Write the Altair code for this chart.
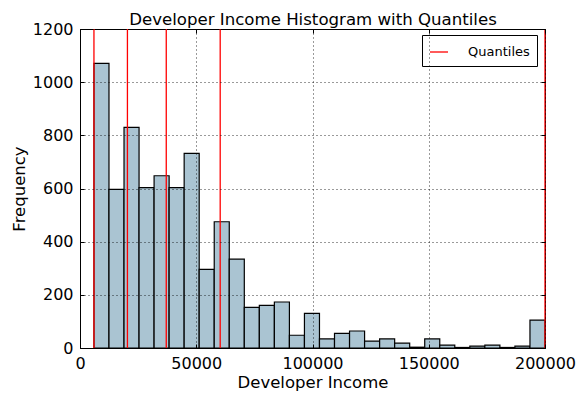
import altair as alt
import pandas as pd

# Histogram: 30 bins between the minimum and maximum income
income_min = 6000
income_max = 200000
counts = [1071, 597, 830, 603, 648, 603, 732, 296, 475, 334,
          153, 160, 173, 48, 130, 34, 55, 64, 26, 34,
          18, 3, 34, 11, 2, 7, 11, 2, 7, 105]
quantile_values = [6000, 20400, 37100, 60300, 200000]
x_ticks = [0, 50000, 100000, 150000, 200000]
y_ticks = [0, 200, 400, 600, 800, 1000, 1200]
title_text = "Developer Income Histogram with Quantiles"

n_bins = len(counts)
step = (income_max - income_min) / n_bins
bins = pd.DataFrame({
    "start": [income_min + i * step for i in range(n_bins)],
    "end": [income_min + (i + 1) * step for i in range(n_bins)],
    "count": counts,
})
quant = pd.DataFrame({"q": quantile_values, "label": ["Quantiles"] * len(quantile_values)})

FONT = "DejaVu Sans"
xscale = alt.Scale(domain=[0, 200000], nice=False, zero=False)
yscale = alt.Scale(domain=[0, 1200], nice=False)

main_axis = dict(
    labelFont=FONT, labelFontSize=16, labelColor="black", labelFlush=False,
    titleFont=FONT, titleFontSize=16.5, titleColor="black", titleFontWeight="normal",
    tickColor="black", tickSize=4, tickWidth=1, offset=-4, domain=False,
    grid=True, gridColor="black", gridDash=[1, 3], gridWidth=0.8, gridOpacity=1,
    zindex=1,
)

bars = alt.Chart(bins).mark_rect(
    fill="#aac4d2", stroke="black", strokeWidth=1.2
).encode(
    x=alt.X("start:Q", scale=xscale,
            axis=alt.Axis(orient="bottom", values=x_ticks, format="d",
                          title="Developer Income", labelPadding=7, titlePadding=3,
                          **main_axis)),
    x2="end:Q",
    y=alt.Y("count:Q", scale=yscale,
            axis=alt.Axis(orient="left", values=y_ticks, format="d",
                          title="Frequency", labelPadding=7, titlePadding=5,
                          **main_axis)),
    y2=alt.datum(0),
)

sec_axis = dict(labels=False, tickColor="black", tickSize=4, tickWidth=1,
                offset=-4, domain=False, grid=False, zindex=1,
                minExtent=0, maxExtent=0)

rules = alt.Chart(quant).mark_rule(strokeWidth=1.3).encode(
    x=alt.X("q:Q", scale=xscale,
            axis=alt.Axis(orient="top", values=x_ticks, title=title_text,
                          titleFont=FONT, titleFontSize=16.6, titleColor="black",
                          titleFontWeight="normal", titleBaseline="alphabetic",
                          titlePadding=9, **sec_axis)),
    y=alt.YDatum(0, type="quantitative", scale=yscale,
                 axis=alt.Axis(orient="right", values=y_ticks, title=None, **sec_axis)),
    y2=alt.datum(1200),
    color=alt.Color("label:N",
                    scale=alt.Scale(domain=["Quantiles"], range=["red"]),
                    legend=alt.Legend(title=None, orient="none", legendX=342, legendY=6,
                                      symbolType="stroke", symbolSize=324,
                                      symbolStrokeWidth=1.3,
                                      labelFont=FONT, labelFontSize=13, labelColor="black",
                                      labelOffset=19, padding=7,
                                      strokeColor="black", fillColor="white",
                                      cornerRadius=0)),
)

chart = alt.layer(bars, rules).resolve_axis(
    x="independent", y="independent"
).properties(
    width=465, height=319,
    autosize=alt.AutoSizeParams(type="none"),
    padding={"left": 72, "top": 21, "right": 33, "bottom": 45},
).configure_view(stroke="black", strokeWidth=1)

chart.save("out.html", embed_options={"renderer": "svg", "actions": False})
